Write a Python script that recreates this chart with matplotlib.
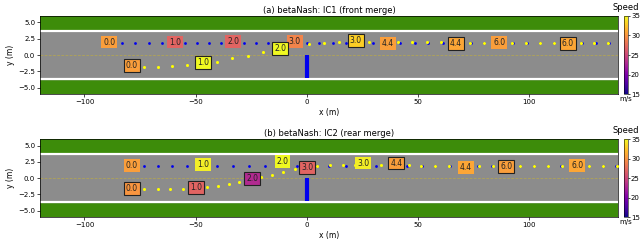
#!/usr/bin/env python3
# Two-panel merge scenario plot: main-lane car (blue dots) and merging car
# (yellow dots) on a straight road, time stamps coloured by speed.

import numpy as np
import matplotlib
matplotlib.use("Agg")
import matplotlib.pyplot as plt
import matplotlib.colors as mcolors
import matplotlib.cm as cm

TITLES = ["(a) betaNash: IC1 (front merge)", "(b) betaNash: IC2 (rear merge)"]

# ---- panel (a) ----
a_main_x = [-83.2, -77.1, -71.1, -65.3, -54.7, -49.2, -44.0, -38.8, -28.3, -22.8,
            -17.4, -11.9, 0.0, 5.7, 11.6, 17.6, 23.6, 29.8, 42.1, 48.5, 54.5, 61.2,
            67.1, 73.8, 79.5, 92.7, 98.9, 105.1, 111.3, 117.5, 123.7, 129.9, 136.1]
a_main_y = [1.85] * len(a_main_x)
a_merge_x = [-73.1, -66.8, -60.4, -54.1, -40.6, -33.6, -26.6, -19.6, -5.1, 1.2, 7.9,
             14.6, 28.0, 34.9, 41.2, 47.4, 54.0, 60.4, 73.4, 79.7, 86.0, 92.3, 98.6,
             104.9, 111.2, 123.4, 129.3, 135.7]
a_merge_y = [-1.8, -1.8, -1.65, -1.5, -1.04, -0.53, -0.12, 0.43, 1.35, 1.65, 1.86,
             2.0, 2.05, 2.05, 2.05, 2.05, 2.0, 2.0, 1.9, 1.9, 1.9, 1.9, 1.9, 1.9, 1.9,
             1.9, 1.9, 1.9]
a_main_lbl_t = ["0.0", "1.0", "2.0", "3.0", "4.4", "6.0"]
a_main_lbl_x = [-88.8, -59.4, -33.1, -5.5, 36.5, 86.5]
a_main_lbl_y = [2.0, 2.0, 2.1, 2.1, 1.8, 1.9]
a_main_lbl_v = [30.5, 27.0, 27.0, 29.0, 30.5, 30.5]
a_merge_lbl_t = ["0.0", "1.0", "2.0", "3.0", "4.4", "6.0"]
a_merge_lbl_x = [-78.7, -46.7, -11.9, 22.0, 67.1, 117.5]
a_merge_lbl_y = [-1.6, -1.2, 1.0, 2.2, 1.8, 1.8]
a_merge_lbl_v = [30.5, 35.0, 35.0, 33.0, 31.0, 31.0]

# ---- panel (b) ----
b_main_x = [-73.1, -66.8, -60.4, -54.1, -40.3, -33.2, -26.1, -18.9, -4.5, 3.6, 10.2,
            17.6, 31.3, 38.6, 45.1, 51.8, 57.9, 64.4, 76.8, 83.5, 90.4, 95.9, 102.1,
            108.6, 114.4, 126.8, 133.2, 139.2]
b_main_y = [1.9] * len(b_main_x)
b_merge_x = [-73.1, -67.1, -61.4, -55.6, -44.7, -39.8, -34.8, -30.3, -20.6, -15.7,
             -10.7, -5.5, 4.5, 10.4, 16.1, 21.6, 33.6, 45.8, 51.5, 57.7, 64.1, 77.5,
             83.7, 96.0, 102.2, 108.4, 114.6, 127.0, 133.2, 139.4]
b_merge_y = [-1.73, -1.73, -1.73, -1.65, -1.32, -1.16, -0.95, -0.59, 0.08, 0.5, 0.86,
             1.32, 1.9, 1.95, 2.0, 2.0, 2.0, 1.95, 1.9, 1.9, 1.85, 1.85, 1.85, 1.85,
             1.85, 1.85, 1.85, 1.85, 1.85, 1.85]
b_main_lbl_t = ["0.0", "1.0", "2.0", "3.0", "4.4", "6.0"]
b_main_lbl_x = [-78.7, -46.5, -10.9, 25.4, 71.6, 121.6]
b_main_lbl_y = [1.93, 2.04, 2.55, 2.3, 1.62, 1.89]
b_main_lbl_v = [30.5, 34.5, 35.0, 34.5, 31.0, 31.0]
b_merge_lbl_t = ["0.0", "1.0", "2.0", "3.0", "4.4", "6.0"]
b_merge_lbl_x = [-78.7, -49.7, -24.6, 0.3, 40.3, 89.8]
b_merge_lbl_y = [-1.56, -1.48, -0.12, 1.6, 2.3, 1.78]
b_merge_lbl_v = [30.0, 27.0, 23.0, 27.0, 30.5, 30.5]

V_MIN, V_MAX = 15, 35


def draw_road(ax):
    ax.set_facecolor("#3d8c0a")
    ax.axhspan(-3.7, 3.7, color="#8c8c8c", zorder=0)
    for yy in (-3.7, 3.7):
        ax.axhline(yy, color="white", lw=1.6, zorder=1)
    ax.axhline(0, color="#b8a84a", lw=0.5, ls=(0, (4, 2)), zorder=1)
    # stop bar at the end of the merge lane
    ax.plot([0, 0], [-3.6, 0.0], color="#0000ee", lw=3, solid_capstyle="butt", zorder=2)


def draw_labels(ax, ts, xs, ys, vs, cmap, norm, edged):
    for t, x, y, v in zip(ts, xs, ys, vs):
        box = dict(boxstyle="square,pad=0.25", fc=cmap(norm(v)),
                   ec="#222222" if edged else "none", lw=0.8 if edged else 0)
        ax.text(x, y, t, fontsize=5.5, ha="center", va="center",
                color="#222222", bbox=box, zorder=6)


def main():
    fig = plt.figure(figsize=(6.4, 2.43), dpi=100)
    cmap = plt.get_cmap("plasma")
    norm = mcolors.Normalize(vmin=V_MIN, vmax=V_MAX)

    panels = [
        (a_main_x, a_main_y, a_merge_x, a_merge_y,
         (a_main_lbl_t, a_main_lbl_x, a_main_lbl_y, a_main_lbl_v),
         (a_merge_lbl_t, a_merge_lbl_x, a_merge_lbl_y, a_merge_lbl_v)),
        (b_main_x, b_main_y, b_merge_x, b_merge_y,
         (b_main_lbl_t, b_main_lbl_x, b_main_lbl_y, b_main_lbl_v),
         (b_merge_lbl_t, b_merge_lbl_x, b_merge_lbl_y, b_merge_lbl_v)),
    ]
    ax_rects = [[40 / 640, 1 - 94 / 243, 578 / 640, 78 / 243],
                [40 / 640, 1 - 217 / 243, 578 / 640, 78 / 243]]
    cb_rects = [[624 / 640, 1 - 94 / 243, 3.5 / 640, 78 / 243],
                [624 / 640, 1 - 217 / 243, 3.5 / 640, 78 / 243]]

    for i, (mx, my, gx, gy, lbl_main, lbl_merge) in enumerate(panels):
        ax = fig.add_axes(ax_rects[i])
        draw_road(ax)
        ax.plot(mx, my, "o", color="#0000ee", ms=2.0, mew=0, zorder=3)
        ax.plot(gx, gy, "o", color="#ffff00", ms=2.2, mew=0, zorder=4)
        draw_labels(ax, *lbl_main, cmap, norm, edged=False)
        draw_labels(ax, *lbl_merge, cmap, norm, edged=True)

        ax.set_xlim(-120, 140)
        ax.set_ylim(-6, 6)
        ax.set_xticks([-100, -50, 0, 50, 100])
        ax.set_yticks([-5, -2.5, 0, 2.5, 5])
        ax.set_yticklabels(["\u22125.0", "\u22122.5", "0.0", "2.5", "5.0"])
        ax.tick_params(labelsize=5, length=2, width=0.5, pad=1.5)
        ax.set_xlabel("x (m)", fontsize=5.5, labelpad=2)
        ax.set_ylabel("y (m)", fontsize=5.5, labelpad=2)
        ax.set_title(TITLES[i], fontsize=6, pad=2.5)
        for s in ax.spines.values():
            s.set_linewidth(0.5)

        cax = fig.add_axes(cb_rects[i])
        sm = cm.ScalarMappable(norm=norm, cmap=cmap)
        cb = fig.colorbar(sm, cax=cax)
        cb.set_ticks([15, 20, 25, 30, 35])
        cb.ax.tick_params(labelsize=5, length=1.5, width=0.5, pad=1)
        cb.outline.set_linewidth(0.4)
        cb.ax.set_title("Speed", fontsize=6, pad=4)
        cb.ax.text(0.5, -0.03, "m/s", fontsize=5, ha="center", va="top",
                   transform=cb.ax.transAxes)

    fig.savefig("out.png", dpi=100)


if __name__ == "__main__":
    main()
